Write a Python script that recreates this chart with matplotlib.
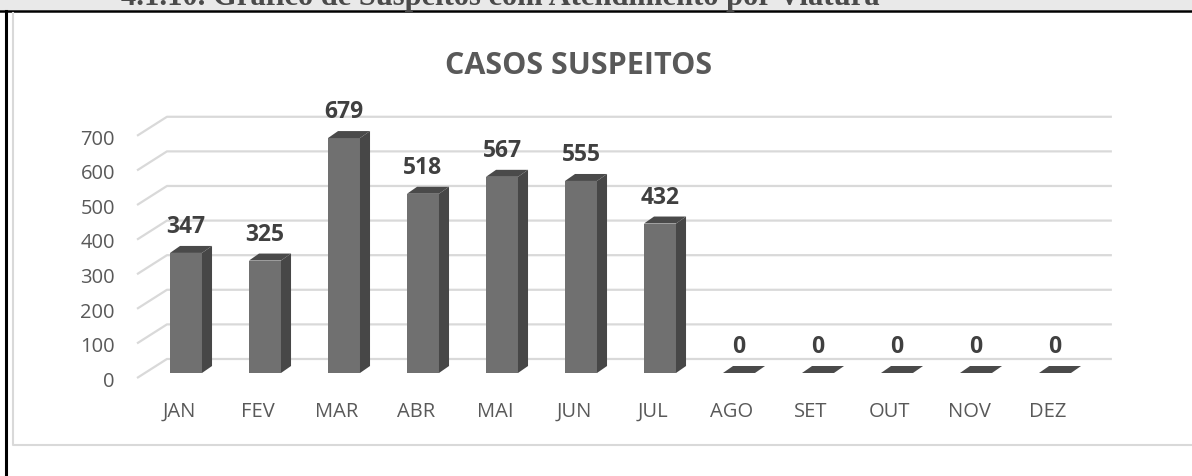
import matplotlib
matplotlib.use("Agg")
import matplotlib.pyplot as plt
from matplotlib.patches import Polygon, Rectangle
from matplotlib.lines import Line2D

# ---- data ----
months = ["JAN", "FEV", "MAR", "ABR", "MAI", "JUN", "JUL", "AGO", "SET", "OUT", "NOV", "DEZ"]
values = [347, 325, 679, 518, 567, 555, 432, 0, 0, 0, 0, 0]
yticks = [0, 100, 200, 300, 400, 500, 600, 700]
title = "CASOS SUSPEITOS"
heading = "4.1.10. Gráfico de Suspeitos com Atendimento por Viatura"

plt.rcParams['font.family'] = ['Open Sans', 'DejaVu Sans']

W, H = 1192, 476
fig = plt.figure(figsize=(W / 100, H / 100), dpi=100)
fig.patch.set_facecolor("white")

# page decorations (figure coords)
fig.patches.append(Rectangle((0, 1 - 10 / H), 1, 10 / H, transform=fig.transFigure,
                             facecolor="#e9e9e9", edgecolor="none", zorder=0))
fig.text(121 / W, 1 - 5.5 / H, heading, family="Liberation Serif", fontweight="bold",
         fontsize=22, color="#4a4a4a", ha="left", va="baseline")
fig.add_artist(Line2D([0, 1], [1 - 10.5 / H, 1 - 10.5 / H], transform=fig.transFigure,
                      color="black", lw=1.8))
fig.add_artist(Line2D([5.5 / W, 5.5 / W], [0, 1 - 10.5 / H], transform=fig.transFigure,
                      color="black", lw=2.2))
# chart frame
fig.add_artist(Line2D([13 / W, 13 / W, 1.01], [1 - 13 / H, 1 - 445 / H, 1 - 445 / H],
                      transform=fig.transFigure, color="#d9d9d9", lw=1.5))

ax = fig.add_axes([0, 0, 1, 1])
ax.set_axis_off()
ax.set_xlim(-186 / 79, (W - 186) / 79)
ax.set_ylim(-297.7, 1078.0)

# geometry (data units)
bw = 0.405          # bar front width (category units)
bdx, bdy = 0.127, 20.2   # bar depth
wdx, wdy = 0.266, 40.5   # back-wall offset from bar front plane
fdx, fdy = -0.089, -14.5  # front floor offset
left_front_x = -0.620
left_back_x = -0.241
grid_right = 11.72
gcol = "#d9d9d9"

for v in yticks:
    ax.plot([left_front_x, left_back_x, grid_right], [v + fdy, v + wdy, v + wdy],
            color=gcol, lw=1.6, zorder=1, solid_capstyle="butt")
    ax.text(-0.899, v + fdy - 11, str(v), ha="right", va="center", fontsize=14.5, color="#595959")

front_c = "#707070"
side_c = "#474747"
top_c = "#4a4a4a"
xs = list(range(len(months)))
ax.bar(xs, values, width=bw, color=front_c, edgecolor="none", zorder=3)
for x, v in zip(xs, values):
    xr = x + bw / 2
    xl = x - bw / 2
    if v > 0:
        ax.add_patch(Polygon([(xr, 0), (xr + bdx, bdy), (xr + bdx, v + bdy), (xr, v)],
                             closed=True, facecolor=side_c, edgecolor="none", zorder=3))
    ax.add_patch(Polygon([(xl, v), (xr, v), (xr + bdx, v + bdy), (xl + bdx, v + bdy)],
                         closed=True, facecolor=top_c, edgecolor="none", zorder=3))
    ax.text(x, v + bdy + 37.6, str(v), ha="center", va="baseline", fontsize=16.5,
            fontweight="bold", color="#404040", zorder=4)

for x, m in zip(xs, months):
    ax.text(x + fdx, -112.7, m, ha="center", va="center", fontsize=14.5, color="#595959")

fig.text(579 / W, 1 - 66 / H, title, ha="center", va="center", fontsize=22,
         fontweight="bold", color="#595959")

fig.savefig("out.png", dpi=100)
